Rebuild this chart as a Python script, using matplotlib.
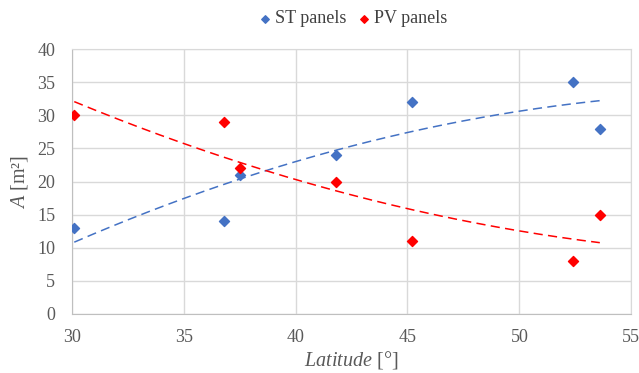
import numpy as np
import matplotlib
matplotlib.use("Agg")
import matplotlib.pyplot as plt

plt.rcParams['font.family'] = ['Liberation Serif', 'DejaVu Serif']
plt.rcParams['mathtext.fontset'] = 'custom'
plt.rcParams['mathtext.rm'] = 'Liberation Serif'
plt.rcParams['mathtext.it'] = 'Liberation Serif:italic'

# Panel area vs latitude
lat = [30.1, 36.8, 37.5, 41.8, 45.2, 52.4, 53.6]
st_area = [13, 14, 21, 24, 32, 35, 28]
pv_area = [30, 29, 22, 20, 11, 8, 15]

blue = '#4472C4'
red = '#FF0000'
grey = '#595959'

fig = plt.figure(figsize=(6.39, 3.73), dpi=100)
ax = fig.add_axes([0.1127, 0.1582, 0.875, 0.7104])

ax.scatter(lat, st_area, marker='D', s=26, color=blue, label='ST panels', zorder=3)
ax.scatter(lat, pv_area, marker='D', s=26, color=red, label='PV panels', zorder=3)

# second-order polynomial trendlines
xs = np.linspace(min(lat), max(lat), 200)
for ys, c in [(st_area, blue), (pv_area, red)]:
    coef = np.polyfit(lat, ys, 2)
    ax.plot(xs, np.polyval(coef, xs), color=c, lw=1.1, ls=(0, (6, 3.5)), zorder=2)

ax.set_xlim(30, 55)
ax.set_ylim(0, 40)
ax.set_xticks(range(30, 56, 5))
ax.set_yticks(range(0, 41, 5))
ax.grid(True, color='#D9D9D9', lw=1)
ax.set_axisbelow(True)
ax.tick_params(length=0, labelsize=13, labelcolor=grey)
ax.tick_params(axis='x', pad=11)
ax.tick_params(axis='y', pad=12)
for s in ax.spines.values():
    s.set_color('#D9D9D9')
ax.spines['left'].set_color('#BFBFBF')
ax.spines['bottom'].set_color('#BFBFBF')

ax.set_xlabel(r'$Latitude$ [°]', fontsize=14.5, color=grey, labelpad=2)
ax.set_ylabel(r'$A$ [m²]', fontsize=14.5, color=grey, labelpad=5)

ax.legend(loc='lower center', bbox_to_anchor=(0.5, 1.02), ncol=2, frameon=False,
          fontsize=13, handletextpad=0.05, handlelength=1.0, columnspacing=0.5,
          markerscale=0.75, labelcolor='#404040')

fig.savefig('out.png', dpi=100)
